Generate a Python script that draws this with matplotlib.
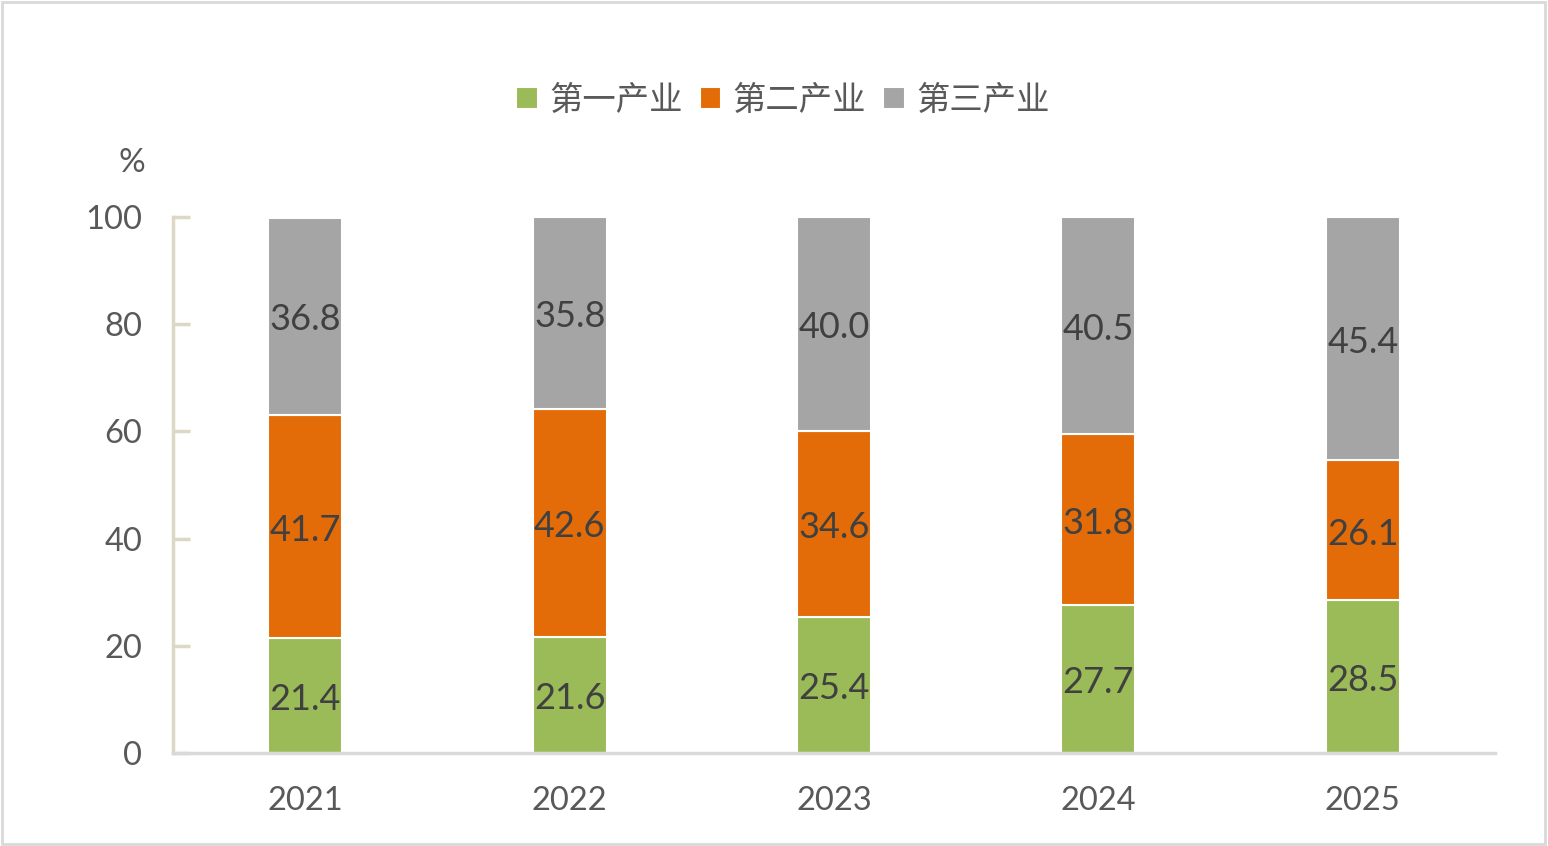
import numpy as np
import matplotlib.pyplot as plt
from matplotlib.patches import Rectangle

years = ["2021", "2022", "2023", "2024", "2025"]
primary = [21.4, 21.6, 25.4, 27.7, 28.5]
secondary = [41.7, 42.6, 34.6, 31.8, 26.1]
tertiary = [36.8, 35.8, 40.0, 40.5, 45.4]
series_names = ["第一产业", "第二产业", "第三产业"]
colors = ["#9BBB59", "#E36C09", "#A5A5A5"]

num_font = "Lato"
cjk_font = ["Noto Sans CJK SC", "DejaVu Sans"]

fig = plt.figure(figsize=(15.48, 8.46), dpi=100)
ax = fig.add_axes([173 / 1548, 93 / 846, 1322 / 1548, 536 / 846])

x = np.arange(len(years))
width = 0.28
bottom = np.zeros(len(years))
for vals, name, col in zip([primary, secondary, tertiary], series_names, colors):
    vals = np.array(vals)
    ax.bar(x, vals, width, bottom=bottom, color=col, edgecolor="white",
           linewidth=1.5, label=name)
    for xi, v, bt in zip(x, vals, bottom):
        ax.text(xi, bt + v / 2 - 0.7, f"{v:.1f}", ha="center", va="center",
                fontsize=26, family=num_font, color="#404040")
    bottom += vals

ax.set_xlim(-0.5, len(years) - 0.5)
ax.set_ylim(0, 100)
ax.set_yticks([0, 20, 40, 60, 80, 100])
ax.set_xticks(x)
ax.set_xticklabels(years)

for lab in ax.get_yticklabels() + ax.get_xticklabels():
    lab.set_family(num_font)
    lab.set_fontsize(23.5)
    lab.set_color("#595959")

ax.tick_params(axis="y", direction="in", length=12, width=2.5, color="#DDD8C4", pad=22)
ax.tick_params(axis="x", length=0, pad=24)

ax.spines["top"].set_visible(False)
ax.spines["right"].set_visible(False)
ax.spines["left"].set_color("#DDD8C4")
ax.spines["left"].set_linewidth(2.5)
ax.spines["bottom"].set_color("#D9D9D9")
ax.spines["bottom"].set_linewidth(2.5)

fig.text(132 / 1548, 1 - 163 / 846, "%", ha="center", va="center",
         fontsize=24, family=num_font, color="#595959")

leg = ax.legend(loc="center", bbox_to_anchor=(783 / 1548, 1 - 100 / 846),
                bbox_transform=fig.transFigure, ncol=3, frameon=False,
                handlelength=0.65, handleheight=0.65, handletextpad=0.35,
                columnspacing=0.5, prop={"family": cjk_font, "size": 24})
for t in leg.get_texts():
    t.set_color("#595959")

fig.patches.append(Rectangle((0.001, 0.002), 0.997, 0.996, transform=fig.transFigure,
                             fill=False, edgecolor="#D9D9D9", linewidth=2))

fig.savefig("out.png", dpi=100)
